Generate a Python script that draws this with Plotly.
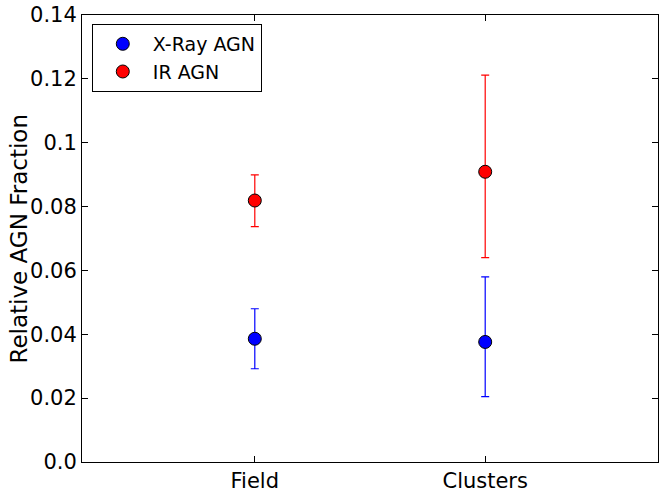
import plotly.graph_objects as go

categories = ["Field", "Clusters"]
cat_pos = [1, 2]
xray_vals = [0.0386, 0.0376]
xray_err_plus = [0.0094, 0.0204]
xray_err_minus = [0.0094, 0.0171]
ir_vals = [0.0819, 0.0909]
ir_err_plus = [0.0080, 0.0303]
ir_err_minus = [0.0082, 0.0269]
ytick_vals = [0.0, 0.02, 0.04, 0.06, 0.08, 0.10, 0.12, 0.14]
ytick_text = ["0.0", "0.02", "0.04", "0.06", "0.08", "0.1", "0.12", "0.14"]
y_title = "Relative AGN Fraction"

fig = go.Figure()
fig.add_trace(go.Scatter(
    x=cat_pos, y=xray_vals, mode="markers", name="X-Ray AGN",
    marker=dict(color="#0000ff", size=13, line=dict(color="black", width=1)),
    error_y=dict(type="data", symmetric=False, array=xray_err_plus,
                 arrayminus=xray_err_minus, color="#0000ff", thickness=1.2, width=4),
))
fig.add_trace(go.Scatter(
    x=cat_pos, y=ir_vals, mode="markers", name="IR AGN",
    marker=dict(color="#ff0000", size=13, line=dict(color="black", width=1)),
    error_y=dict(type="data", symmetric=False, array=ir_err_plus,
                 arrayminus=ir_err_minus, color="#ff0000", thickness=1.2, width=4),
))

font = "DejaVu Sans"
fig.update_layout(
    width=660, height=494,
    margin=dict(l=82, r=1, t=15, b=30),
    paper_bgcolor="white", plot_bgcolor="white",
    font=dict(family=font, color="black", size=20),
    showlegend=True,
    legend=dict(x=0.017, y=0.98, xanchor="left", yanchor="top",
                bordercolor="black", borderwidth=1, bgcolor="white",
                font=dict(size=19, family=font), tracegroupgap=0, itemwidth=50),
    xaxis=dict(range=[0.25, 2.75], tickvals=cat_pos, ticktext=categories,
               showline=True, linecolor="black", linewidth=1, mirror="ticks",
               ticks="inside", ticklen=6, tickcolor="black", showgrid=False,
               zeroline=False, tickfont=dict(size=21, family=font)),
    yaxis=dict(range=[0, 0.14], tickvals=ytick_vals, ticktext=ytick_text,
               showline=True, linecolor="black", linewidth=1, mirror="ticks",
               ticks="inside", ticklen=6, tickcolor="black", showgrid=False,
               zeroline=False, tickfont=dict(size=21, family=font)),
    annotations=[dict(text=y_title, xref="paper", yref="paper",
                      x=-0.111, y=0.5, xanchor="center", yanchor="middle",
                      textangle=-90, showarrow=False,
                      font=dict(size=23, family=font))],
)
fig.write_html("out.html", config={"displayModeBar": False},
               post_script="document.body.style.margin='0';")
